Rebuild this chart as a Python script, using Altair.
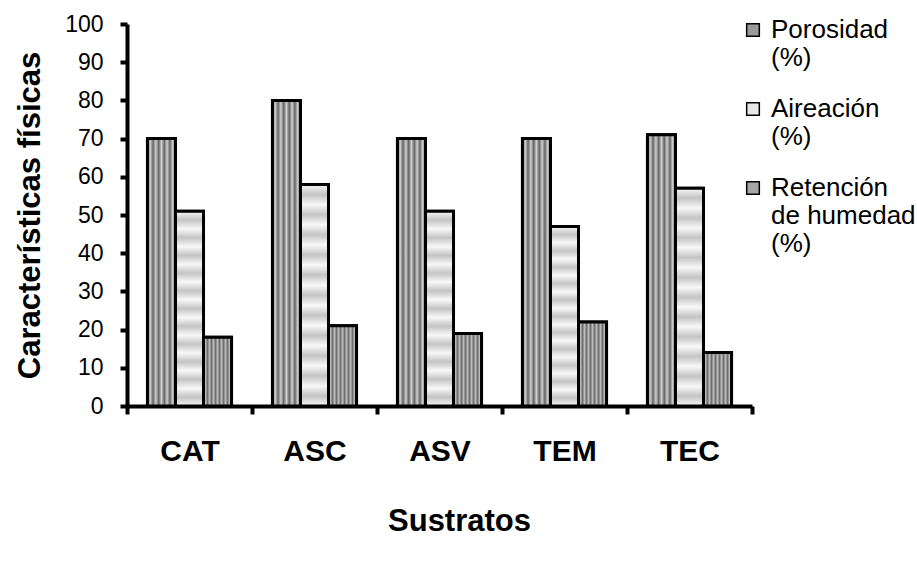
import altair as alt
import pandas as pd

sustratos = ["CAT", "ASC", "ASV", "TEM", "TEC"]
series = ["Porosidad|(%)", "Aireación|(%)", "Retención|de humedad|(%)"]
porosidad = [70, 80, 70, 70, 71]
aireacion = [51, 58, 51, 47, 57]
retencion = [18, 21, 19, 22, 14]

rows = []
for vals, s in zip([porosidad, aireacion, retencion], series):
    for sub, v in zip(sustratos, vals):
        rows.append({"Sustrato": sub, "Serie": s, "Valor": v})
df = pd.DataFrame(rows)

FONT = "Liberation Sans"


def stripes(n, c1, c2, horizontal=True):
    stops = []
    for i in range(n):
        stops.append(alt.GradientStop(offset=i / n, color=c1))
        stops.append(alt.GradientStop(offset=(i + 0.5) / n, color=c2))
    stops.append(alt.GradientStop(offset=1, color=c1))
    if horizontal:
        return alt.LinearGradient(gradient="linear", stops=stops, x1=0, x2=1, y1=0, y2=0)
    return alt.LinearGradient(gradient="linear", stops=stops, x1=0, x2=0, y1=0, y2=1)


grads = [
    stripes(5, "#646464", "#d0d0d0", True),
    stripes(11, "#f8f8f8", "#c4c4c4", False),
    stripes(7, "#6e6e6e", "#bcbcbc", True),
]

base = alt.Chart(df).encode(
    x=alt.X(
        "Sustrato:N",
        sort=sustratos,
        scale=alt.Scale(paddingInner=0, paddingOuter=0),
        axis=alt.Axis(
            title="Sustratos",
            titleX=332,
            labelAngle=0,
            labelFont=FONT,
            labelFontSize=30,
            labelFontWeight="bold",
            labelColor="black",
            labelPadding=22,
            tickBand="extent",
            tickSize=8,
            tickWidth=4,
            tickColor="black",
            domainWidth=4,
            domainColor="black",
            titleFont=FONT,
            titleFontSize=31,
            titleFontWeight="bold",
            titleColor="black",
            titlePadding=40,
        ),
    ),
    xOffset=alt.XOffset(
        "Serie:N",
        sort=series,
        scale=alt.Scale(domain=series, paddingInner=0, paddingOuter=0.73),
    ),
    y=alt.Y(
        "Valor:Q",
        scale=alt.Scale(domain=[0, 100], nice=False),
        axis=alt.Axis(
            title="Características físicas",
            values=list(range(0, 101, 10)),
            labelFont=FONT,
            labelFontSize=23,
            labelColor="black",
            labelPadding=17,
            tickSize=7,
            tickWidth=4,
            tickColor="black",
            domainWidth=4,
            domainColor="black",
            titleFont=FONT,
            titleFontSize=31,
            titleFontWeight="bold",
            titleColor="black",
            titlePadding=18,
        ),
    ),
)

legend_layer = base.mark_bar(stroke="black", strokeWidth=3).encode(
    color=alt.Color(
        "Serie:N",
        sort=series,
        scale=alt.Scale(domain=series, range=["#9a9a9a", "#e8e8e8", "#a6a6a6"]),
        legend=alt.Legend(
            title=None,
            orient="none",
            legendX=613,
            legendY=-7,
            labelExpr="split(datum.label, '|')",
            labelFont=FONT,
            labelFontSize=26,
            labelColor="black",
            labelLimit=0,
            labelOffset=5,
            symbolType="square",
            symbolSize=160,
            symbolStrokeColor="black",
            symbolStrokeWidth=1.5,
            rowPadding=25,
        ),
    )
)

overlays = [
    base.transform_filter(alt.datum.Serie == s).mark_bar(fill=g, stroke="black", strokeWidth=3)
    for s, g in zip(series, grads)
]

chart = (
    alt.layer(legend_layer, *overlays)
    .properties(
        width=625,
        height=382,
        autosize=alt.AutoSizeParams(type="none"),
        padding={"left": 127, "top": 24, "right": 165, "bottom": 157},
    )
    .configure_axis(grid=False)
    .configure_view(stroke=None)
)

chart.save("out.html", embed_options={"renderer": "svg", "actions": False})
